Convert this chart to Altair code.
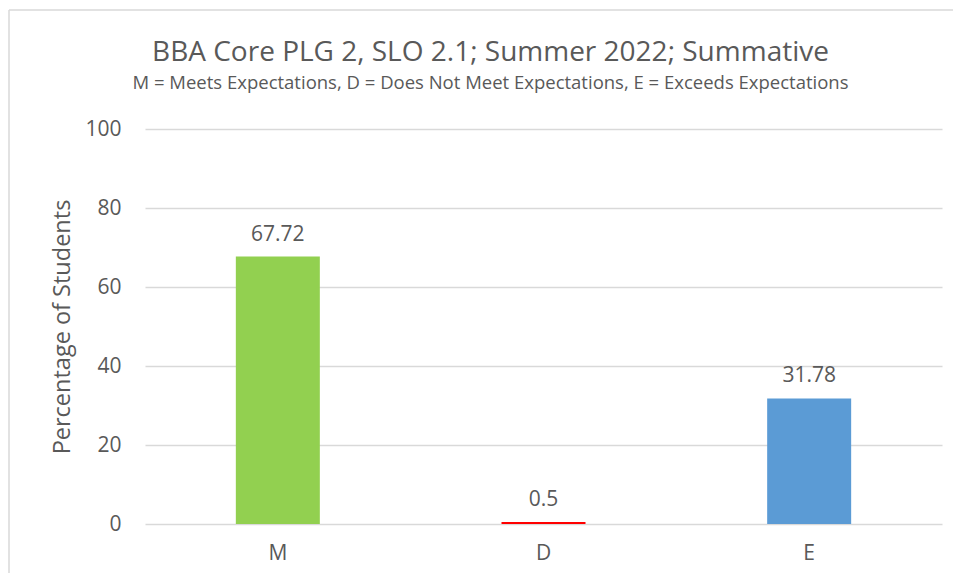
import altair as alt
import pandas as pd

categories = ["M", "D", "E"]
values = [67.72, 0.5, 31.78]
labels = ["67.72", "0.5", "31.78"]
colors = ["#92D050", "#FF0000", "#5B9BD5"]

df = pd.DataFrame({"cat": categories, "val": values, "lab": labels})

FONT = "Open Sans"
TXT = "#595959"

x = alt.X("cat:N", sort=categories, title=None,
          scale=alt.Scale(paddingInner=0, paddingOuter=0),
          axis=alt.Axis(labelAngle=0, labelFontSize=21, labelColor=TXT, labelFont=FONT,
                        domain=False, ticks=False, labelPadding=18, grid=False))
y = alt.Y("val:Q", title="Percentage of Students",
          scale=alt.Scale(domain=[0, 100]),
          axis=alt.Axis(values=[0, 20, 40, 60, 80, 100], labelFontSize=21, labelColor=TXT,
                        labelFont=FONT, titleFont=FONT, titleFontSize=23.5, titleColor=TXT,
                        titleFontWeight="normal", domain=False, ticks=False, labelPadding=24,
                        titlePadding=10, gridColor="#D9D9D9", gridWidth=1.5))

bars = alt.Chart(df).mark_bar(size=84).encode(
    x=x, y=y,
    color=alt.Color("cat:N", scale=alt.Scale(domain=categories, range=colors), legend=None),
)

text = alt.Chart(df).mark_text(dy=-12, baseline="bottom", fontSize=21, font=FONT, color=TXT).encode(
    x=alt.X("cat:N", sort=categories), y="val:Q", text="lab:N"
)

top_edge = alt.Chart(df.head(1)).mark_rule(stroke="#D9D9D9", strokeWidth=1.5).encode(
    x=alt.value(-136), x2=alt.value(810), y=alt.value(-119)
)
left_edge = alt.Chart(df.head(1)).mark_rule(stroke="#D9D9D9", strokeWidth=1.5).encode(
    x=alt.value(-136), y=alt.value(-119), y2=alt.value(445)
)

chart = alt.layer(top_edge, left_edge, bars, text).properties(
    width=797, height=395,
    autosize=alt.AutoSizeParams(type="none"),
    padding={"left": 137, "top": 121, "right": 11, "bottom": 49},
    title=alt.TitleParams(
        text="BBA Core PLG 2, SLO 2.1; Summer 2022; Summative",
        subtitle="M = Meets Expectations, D = Does Not Meet Expectations, E = Exceeds Expectations",
        anchor="middle", dx=-53, font=FONT, fontSize=28, fontWeight="normal", color=TXT,
        subtitleFont=FONT, subtitleFontSize=18.5, subtitleColor=TXT, subtitlePadding=7, offset=-83,
    ),
).configure_view(stroke=None)

chart.save("out.html", embed_options={"renderer": "svg", "actions": False})
